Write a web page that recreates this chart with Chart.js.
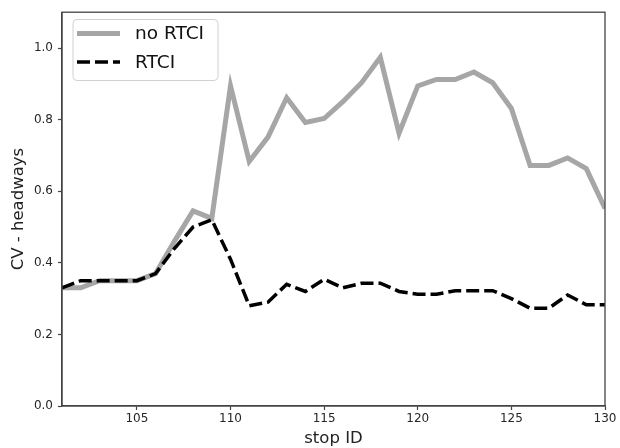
<!DOCTYPE html>
<html>
<head>
<meta charset="utf-8">
<script src="https://cdn.jsdelivr.net/npm/chart.js@4.4.7/dist/chart.umd.min.js"></script>
<style>
  html, body { margin: 0; padding: 0; background: #fff; }
  #wrap { width: 620px; height: 448px; }
</style>
</head>
<body>
<div id="wrap"><canvas id="c" width="620" height="448"></canvas></div>
<script>
const stopIds = [101, 102, 103, 104, 105, 106, 107, 108, 109, 110,
  111, 112, 113, 114, 115, 116, 117, 118, 119, 120,
  121, 122, 123, 124, 125, 126, 127, 128, 129, 130];
const noRtci = [0.33, 0.33, 0.35, 0.35, 0.35, 0.37, 0.46, 0.545, 0.524, 0.894,
  0.683, 0.751, 0.861, 0.792, 0.803, 0.85, 0.903, 0.974, 0.762, 0.894,
  0.912, 0.912, 0.933, 0.903, 0.831, 0.672, 0.672, 0.693, 0.663, 0.552];
const rtci = [0.33, 0.35, 0.35, 0.35, 0.35, 0.37, 0.44, 0.50, 0.52, 0.41,
  0.28, 0.29, 0.34, 0.32, 0.354, 0.33, 0.343, 0.343, 0.32, 0.312,
  0.312, 0.322, 0.322, 0.322, 0.30, 0.273, 0.273, 0.31, 0.283, 0.283];
const xTicks = [105, 110, 115, 120, 125, 130];
const yTicks = [0, 0.2, 0.4, 0.6, 0.8, 1.0];

const FONT = 'DejaVu Sans';
const AXIS = '#444';

function pts(vals) {
  return stopIds.map((x, i) => ({ x: x, y: vals[i] }));
}

const frame = {
  id: 'frame',
  afterDraw(chart) {
    const a = chart.chartArea, ctx = chart.ctx;
    ctx.save();
    ctx.strokeStyle = AXIS;
    ctx.lineWidth = 1.3;
    ctx.strokeRect(a.left, a.top, a.right - a.left, a.bottom - a.top);

    // legend box inside the plot, top left
    const bx = 73, by = 19.5, bw = 145, bh = 61;
    ctx.beginPath();
    ctx.roundRect(bx, by, bw, bh, 4);
    ctx.fillStyle = 'rgba(255,255,255,0.8)';
    ctx.fill();
    ctx.strokeStyle = '#d0d0d0';
    ctx.lineWidth = 1;
    ctx.stroke();

    const items = [
      { text: 'no RTCI', ds: chart.data.datasets[1], y: 33.5 },
      { text: 'RTCI', ds: chart.data.datasets[0], y: 62 }
    ];
    items.forEach(it => {
      ctx.beginPath();
      ctx.setLineDash(it.ds.borderDash || []);
      ctx.strokeStyle = it.ds.borderColor;
      ctx.lineWidth = it.ds.borderWidth;
      ctx.moveTo(77, it.y);
      ctx.lineTo(120, it.y);
      ctx.stroke();
      ctx.setLineDash([]);
      ctx.fillStyle = '#111';
      ctx.font = '18.5px "' + FONT + '"';
      ctx.textBaseline = 'middle';
      ctx.fillText(it.text, 135, it.y + 1);
    });
    ctx.restore();
  }
};

new Chart(document.getElementById('c'), {
  type: 'line',
  data: {
    datasets: [
      {
        label: 'RTCI',
        data: pts(rtci),
        borderColor: '#000',
        borderWidth: 3.5,
        borderDash: [13, 5],
        pointRadius: 0,
        tension: 0,
        order: 0
      },
      {
        label: 'no RTCI',
        data: pts(noRtci),
        borderColor: '#a6a6a6',
        borderWidth: 5,
        pointRadius: 0,
        tension: 0,
        order: 1
      }
    ]
  },
  options: {
    responsive: false,
    animation: false,
    layout: { padding: { top: 9, right: 15, left: 0, bottom: 0 } },
    plugins: {
      legend: { display: false },
      tooltip: { enabled: false }
    },
    scales: {
      x: {
        type: 'linear',
        min: 101,
        max: 130,
        afterBuildTicks: s => { s.ticks = xTicks.map(v => ({ value: v })); },
        afterFit: s => { s.height = 42; },
        grid: { display: true, drawOnChartArea: false, drawTicks: true, tickLength: 4, color: AXIS, tickWidth: 1.2 },
        border: { display: true, color: AXIS, width: 1.3 },
        ticks: { color: '#262626', padding: 2, font: { family: FONT, size: 12 } },
        title: { display: true, text: 'stop ID', color: '#222', padding: { top: 0, bottom: 0 }, font: { family: FONT, size: 16.5, lineHeight: 1.1 } }
      },
      y: {
        min: 0,
        max: 1.1,
        afterBuildTicks: s => { s.ticks = yTicks.map(v => ({ value: v })); },
        afterFit: s => { s.width = 62; },
        grid: { display: true, drawOnChartArea: false, drawTicks: true, tickLength: 4, color: AXIS, tickWidth: 1.2 },
        border: { display: true, color: AXIS, width: 1.3 },
        ticks: { color: '#262626', padding: 5, font: { family: FONT, size: 12 }, callback: v => v.toFixed(1) },
        title: { display: true, text: 'CV - headways', color: '#222', padding: { top: 9, bottom: 0 }, font: { family: FONT, size: 16.5 } }
      }
    }
  },
  plugins: [frame]
});
</script>
</body>
</html>
